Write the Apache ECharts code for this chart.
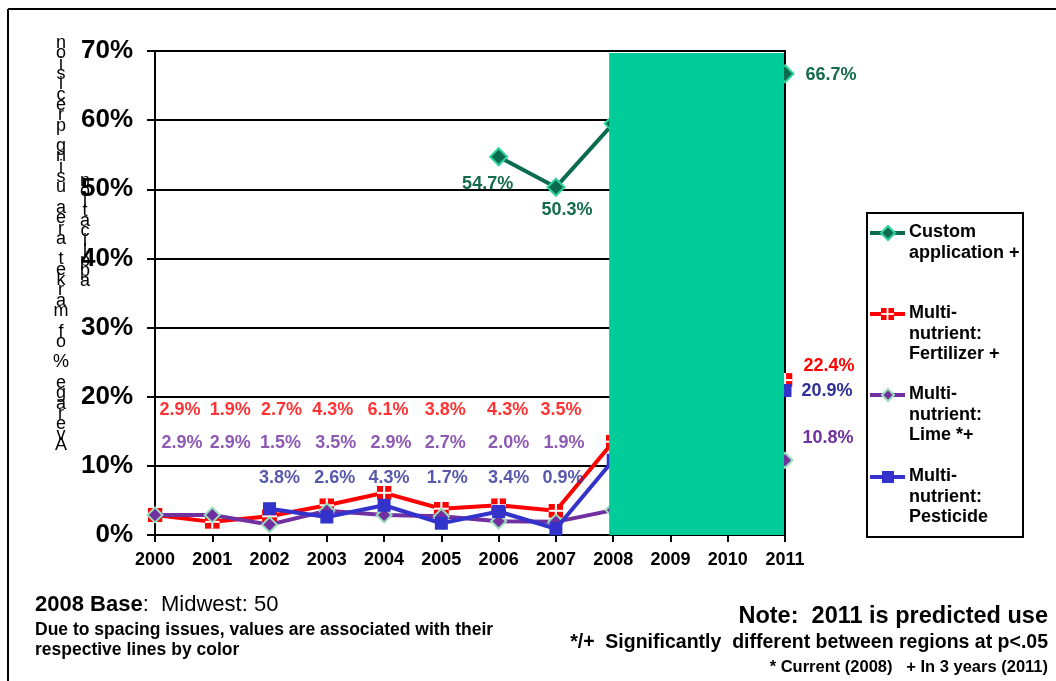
<!DOCTYPE html>
<html>
<head>
<meta charset="utf-8">
<script src="https://cdn.jsdelivr.net/npm/echarts@6/dist/echarts.min.js"></script>
<style>html,body{margin:0;padding:0;background:#fff;}#c{width:1056px;height:681px;}</style>
</head>
<body>
<div id="c"></div>
<script>
// ---- data ----
const years = ['2000','2001','2002','2003','2004','2005','2006','2007','2008','2009','2010','2011'];
const customApp  = [null,null,null,null,null,null,54.7,50.3,59.5,null,null,66.7];
const fertilizer = [2.9,1.9,2.7,4.3,6.1,3.8,4.3,3.5,13.5,null,null,22.4];
const lime       = [2.9,2.9,1.5,3.5,2.9,2.7,2.0,1.9,3.6,null,null,10.8];
const pesticide  = [null,null,3.8,2.6,4.3,1.7,3.4,0.9,10.8,null,null,20.9];
const seriesNames = ['Custom\napplication +','Multi-\nnutrient:\nFertilizer +','Multi-\nnutrient:\nLime *+','Multi-\nnutrient:\nPesticide'];
const yTicks = [0,10,20,30,40,50,60,70];
const overlayFrom = '2008', overlayTo = '2011', overlayTop = 69.7;

// ---- styles / label placement ----
const FONT = '"Liberation Sans", Arial, sans-serif';
const C_GREEN = '#0B6B4F', C_GREEN_LBL = '#156B4E', C_RED = '#FF0000', C_PURPLE = '#7030A0', C_BLUE = '#3333CC', C_BLUE_LBL = '#2E2E99';
const redOffsets = [25,18,12,6,4,4,9,5];
const purpleOffsets = [27,18,11,9,7,4,10,8];
const blueOffsets = [0,0,10,8,5,6,10,7];
const ROW_RED = 18.06, ROW_PURPLE = 13.3, ROW_BLUE = 8.24;
const endLabelOffsets = {
  custom: {6:[-11,27], 7:[11,23], 11:[46,1]},
  fert: {11:[44,-14]},
  lime: {11:[43,-22]},
  pest: {11:[42,1]}
};

function svgUri(s){ return 'image://data:image/svg+xml;charset=utf-8,' + encodeURIComponent(s); }
const redSym = svgUri("<svg xmlns='http://www.w3.org/2000/svg' width='14' height='14'><rect width='14' height='14' fill='#FF0000'/><rect x='6' y='0' width='2' height='14' fill='#ffffff'/><rect x='0' y='6' width='14' height='2' fill='#ffffff'/></svg>");

const lblStyle = (color) => ({ color: color, fontFamily: FONT, fontWeight: 'bold', fontSize: 18 });

function lineData(arr, offs, color){
  return arr.map((v,i) => {
    if (v === null) return null;
    const item = { value: v };
    if (offs[i]) {
      item.label = Object.assign({ show: true, position: 'inside', offset: offs[i], formatter: v.toFixed(1) + '%' }, lblStyle(color));
    }
    return item;
  });
}

function rowSeries(arr, row, offs, color){
  const data = [];
  for (let i = 0; i <= 7; i++) {
    if (arr[i] === null) continue;
    data.push({ value: [years[i], row], label: { offset: [offs[i], 0], formatter: arr[i].toFixed(1) + '%' } });
  }
  return {
    type: 'scatter', symbolSize: 0, z: 12, silent: true, data: data,
    label: Object.assign({ show: true, position: 'inside' }, lblStyle(color))
  };
}

const chart = echarts.init(document.getElementById('c'), null, { renderer: 'canvas' });

// y-axis title as drawn in reference (stacked characters)
const col1 = 'Average % of market area using precision'.split('').reverse().join('\n');
const col2 = 'application'.split('').reverse().join('\n');

// legend pieces
const legendX0 = 870, legendX1 = 905, legendTextX = 909;
const legendYs = [233, 314, 395, 477];
const legendColors = [C_GREEN, C_RED, C_PURPLE, C_BLUE];
const legendGraphics = [
  { type: 'rect', shape: { x: 867, y: 213, width: 156, height: 324 }, style: { fill: '#fff', stroke: '#000', lineWidth: 2 }, z: 20 }
];
legendYs.forEach((y, k) => {
  legendGraphics.push({ type: 'line', shape: { x1: legendX0, y1: y, x2: legendX1, y2: y }, style: { stroke: legendColors[k], lineWidth: 4 }, z: 21 });
  if (k === 0) legendGraphics.push({ type: 'polygon', shape: { points: [[888, y-7],[895, y],[888, y+7],[881, y]] }, style: { fill: C_GREEN, stroke: '#2FD39A', lineWidth: 2 }, z: 22 });
  if (k === 1) legendGraphics.push({ type: 'image', style: { image: redSym.replace('image://',''), x: 881, y: y-6, width: 13, height: 12 }, z: 22 });
  if (k === 2) legendGraphics.push({ type: 'polygon', shape: { points: [[888, y-6],[894, y],[888, y+6],[882, y]] }, style: { fill: C_PURPLE, stroke: '#99DDBB', lineWidth: 2 }, z: 22 });
  if (k === 3) legendGraphics.push({ type: 'rect', shape: { x: 882, y: y-6, width: 12, height: 12 }, style: { fill: C_BLUE }, z: 22 });
  legendGraphics.push({ type: 'text', style: { text: seriesNames[k], x: legendTextX, y: y - 11, font: 'bold 18px ' + FONT, lineHeight: 20.5, fill: '#000', verticalAlign: 'top', align: 'left' }, z: 22 });
});

const option = {
  animation: false,
  backgroundColor: '#fff',
  grid: { left: 155, right: 271, top: 51, bottom: 146, show: true, borderColor: '#000', borderWidth: 2, backgroundColor: 'transparent' },
  xAxis: {
    type: 'category', data: years, boundaryGap: false,
    axisLine: { lineStyle: { color: '#000', width: 2 } },
    axisTick: { show: true, length: 7, lineStyle: { color: '#000', width: 2 }, alignWithLabel: true },
    axisLabel: { color: '#000', fontFamily: FONT, fontWeight: 'bold', fontSize: 18, margin: 16 },
    splitLine: { show: false }
  },
  yAxis: {
    type: 'value', min: 0, max: 70, interval: 10,
    axisLine: { show: true, lineStyle: { color: '#000', width: 2 } },
    axisTick: { show: true, length: 8, lineStyle: { color: '#000', width: 2 } },
    axisLabel: { color: '#000', fontFamily: FONT, fontWeight: 'bold', fontSize: 26, margin: 22, formatter: v => yTicks.includes(v) ? v + '%' : '' },
    splitLine: { show: true, lineStyle: { color: '#000', width: 2 } }
  },
  series: [
    { type: 'line', name: 'Custom application +', data: lineData(customApp, endLabelOffsets.custom, C_GREEN_LBL), connectNulls: true,
      symbol: 'diamond', symbolSize: 17, lineStyle: { color: C_GREEN, width: 4 }, itemStyle: { color: C_GREEN, borderColor: '#2FD39A', borderWidth: 2 }, z: 2 },
    { type: 'line', name: 'Fertilizer', data: lineData(fertilizer, endLabelOffsets.fert, C_RED), connectNulls: true,
      symbol: redSym, symbolSize: [15, 14], lineStyle: { color: C_RED, width: 4 }, itemStyle: { color: C_RED }, z: 3 },
    { type: 'line', name: 'Lime', data: lineData(lime, endLabelOffsets.lime, C_PURPLE), connectNulls: true,
      symbol: 'diamond', symbolSize: 15, lineStyle: { color: C_PURPLE, width: 4 }, itemStyle: { color: C_PURPLE, borderColor: '#99DDBB', borderWidth: 2 }, z: 4 },
    { type: 'line', name: 'Pesticide', data: lineData(pesticide, endLabelOffsets.pest, C_BLUE_LBL), connectNulls: true,
      symbol: 'rect', symbolSize: 13, lineStyle: { color: C_BLUE, width: 4 }, itemStyle: { color: C_BLUE }, z: 5 },
    {
      type: 'custom', z: 10, silent: true, data: [[years.indexOf(overlayFrom), years.indexOf(overlayTo), overlayTop]],
      renderItem: (params, api) => {
        const a = api.coord([api.value(0), api.value(2)]);
        const b = api.coord([api.value(1), 0]);
        return { type: 'rect', shape: { x: a[0] - 4, y: a[1], width: b[0] - a[0] + 3, height: b[1] - a[1] }, style: { fill: '#00CC99' } };
      }
    },
    rowSeries(fertilizer, ROW_RED, redOffsets, C_RED),
    rowSeries(lime, ROW_PURPLE, purpleOffsets, C_PURPLE),
    rowSeries(pesticide, ROW_BLUE, blueOffsets, C_BLUE_LBL)
  ],
  graphic: [
    { type: 'line', shape: { x1: 8, y1: 9, x2: 1056, y2: 9 }, style: { stroke: '#000', lineWidth: 2 } },
    { type: 'line', shape: { x1: 8, y1: 9, x2: 8, y2: 681 }, style: { stroke: '#000', lineWidth: 2 } },
    { type: 'text', style: { text: col1, x: 61, y: 38, font: '18px ' + FONT, lineHeight: 10.3, align: 'center', verticalAlign: 'top', fill: '#000' }, z: 30 },
    { type: 'text', style: { text: col2, x: 85, y: 176, font: '18px ' + FONT, lineHeight: 10, align: 'center', verticalAlign: 'top', fill: '#000' }, z: 30 },
    ...legendGraphics,
    { type: 'text', style: { text: '{b|2008 Base}{r|:  Midwest: 50}', x: 35, y: 605, verticalAlign: 'middle',
        rich: { b: { font: 'bold 22px ' + FONT, fill: '#000' }, r: { font: '22px ' + FONT, fill: '#000' } } } },
    { type: 'text', style: { text: 'Due to spacing issues, values are associated with their\nrespective lines by color', x: 35, y: 620, font: 'bold 17.5px ' + FONT, lineHeight: 20, fill: '#000', verticalAlign: 'top' } },
    { type: 'text', style: { text: 'Note:  2011 is predicted use', x: 1048, y: 617, font: 'bold 23.5px ' + FONT, fill: '#000', align: 'right', verticalAlign: 'middle' } },
    { type: 'text', style: { text: '*/+  Significantly  different between regions at p<.05', x: 1048, y: 643, font: 'bold 19.5px ' + FONT, fill: '#000', align: 'right', verticalAlign: 'middle' } },
    { type: 'text', style: { text: '* Current (2008)   + In 3 years (2011)', x: 1048, y: 667, font: 'bold 16.5px ' + FONT, fill: '#000', align: 'right', verticalAlign: 'middle' } }
  ]
};
chart.setOption(option);
</script>
</body>
</html>
